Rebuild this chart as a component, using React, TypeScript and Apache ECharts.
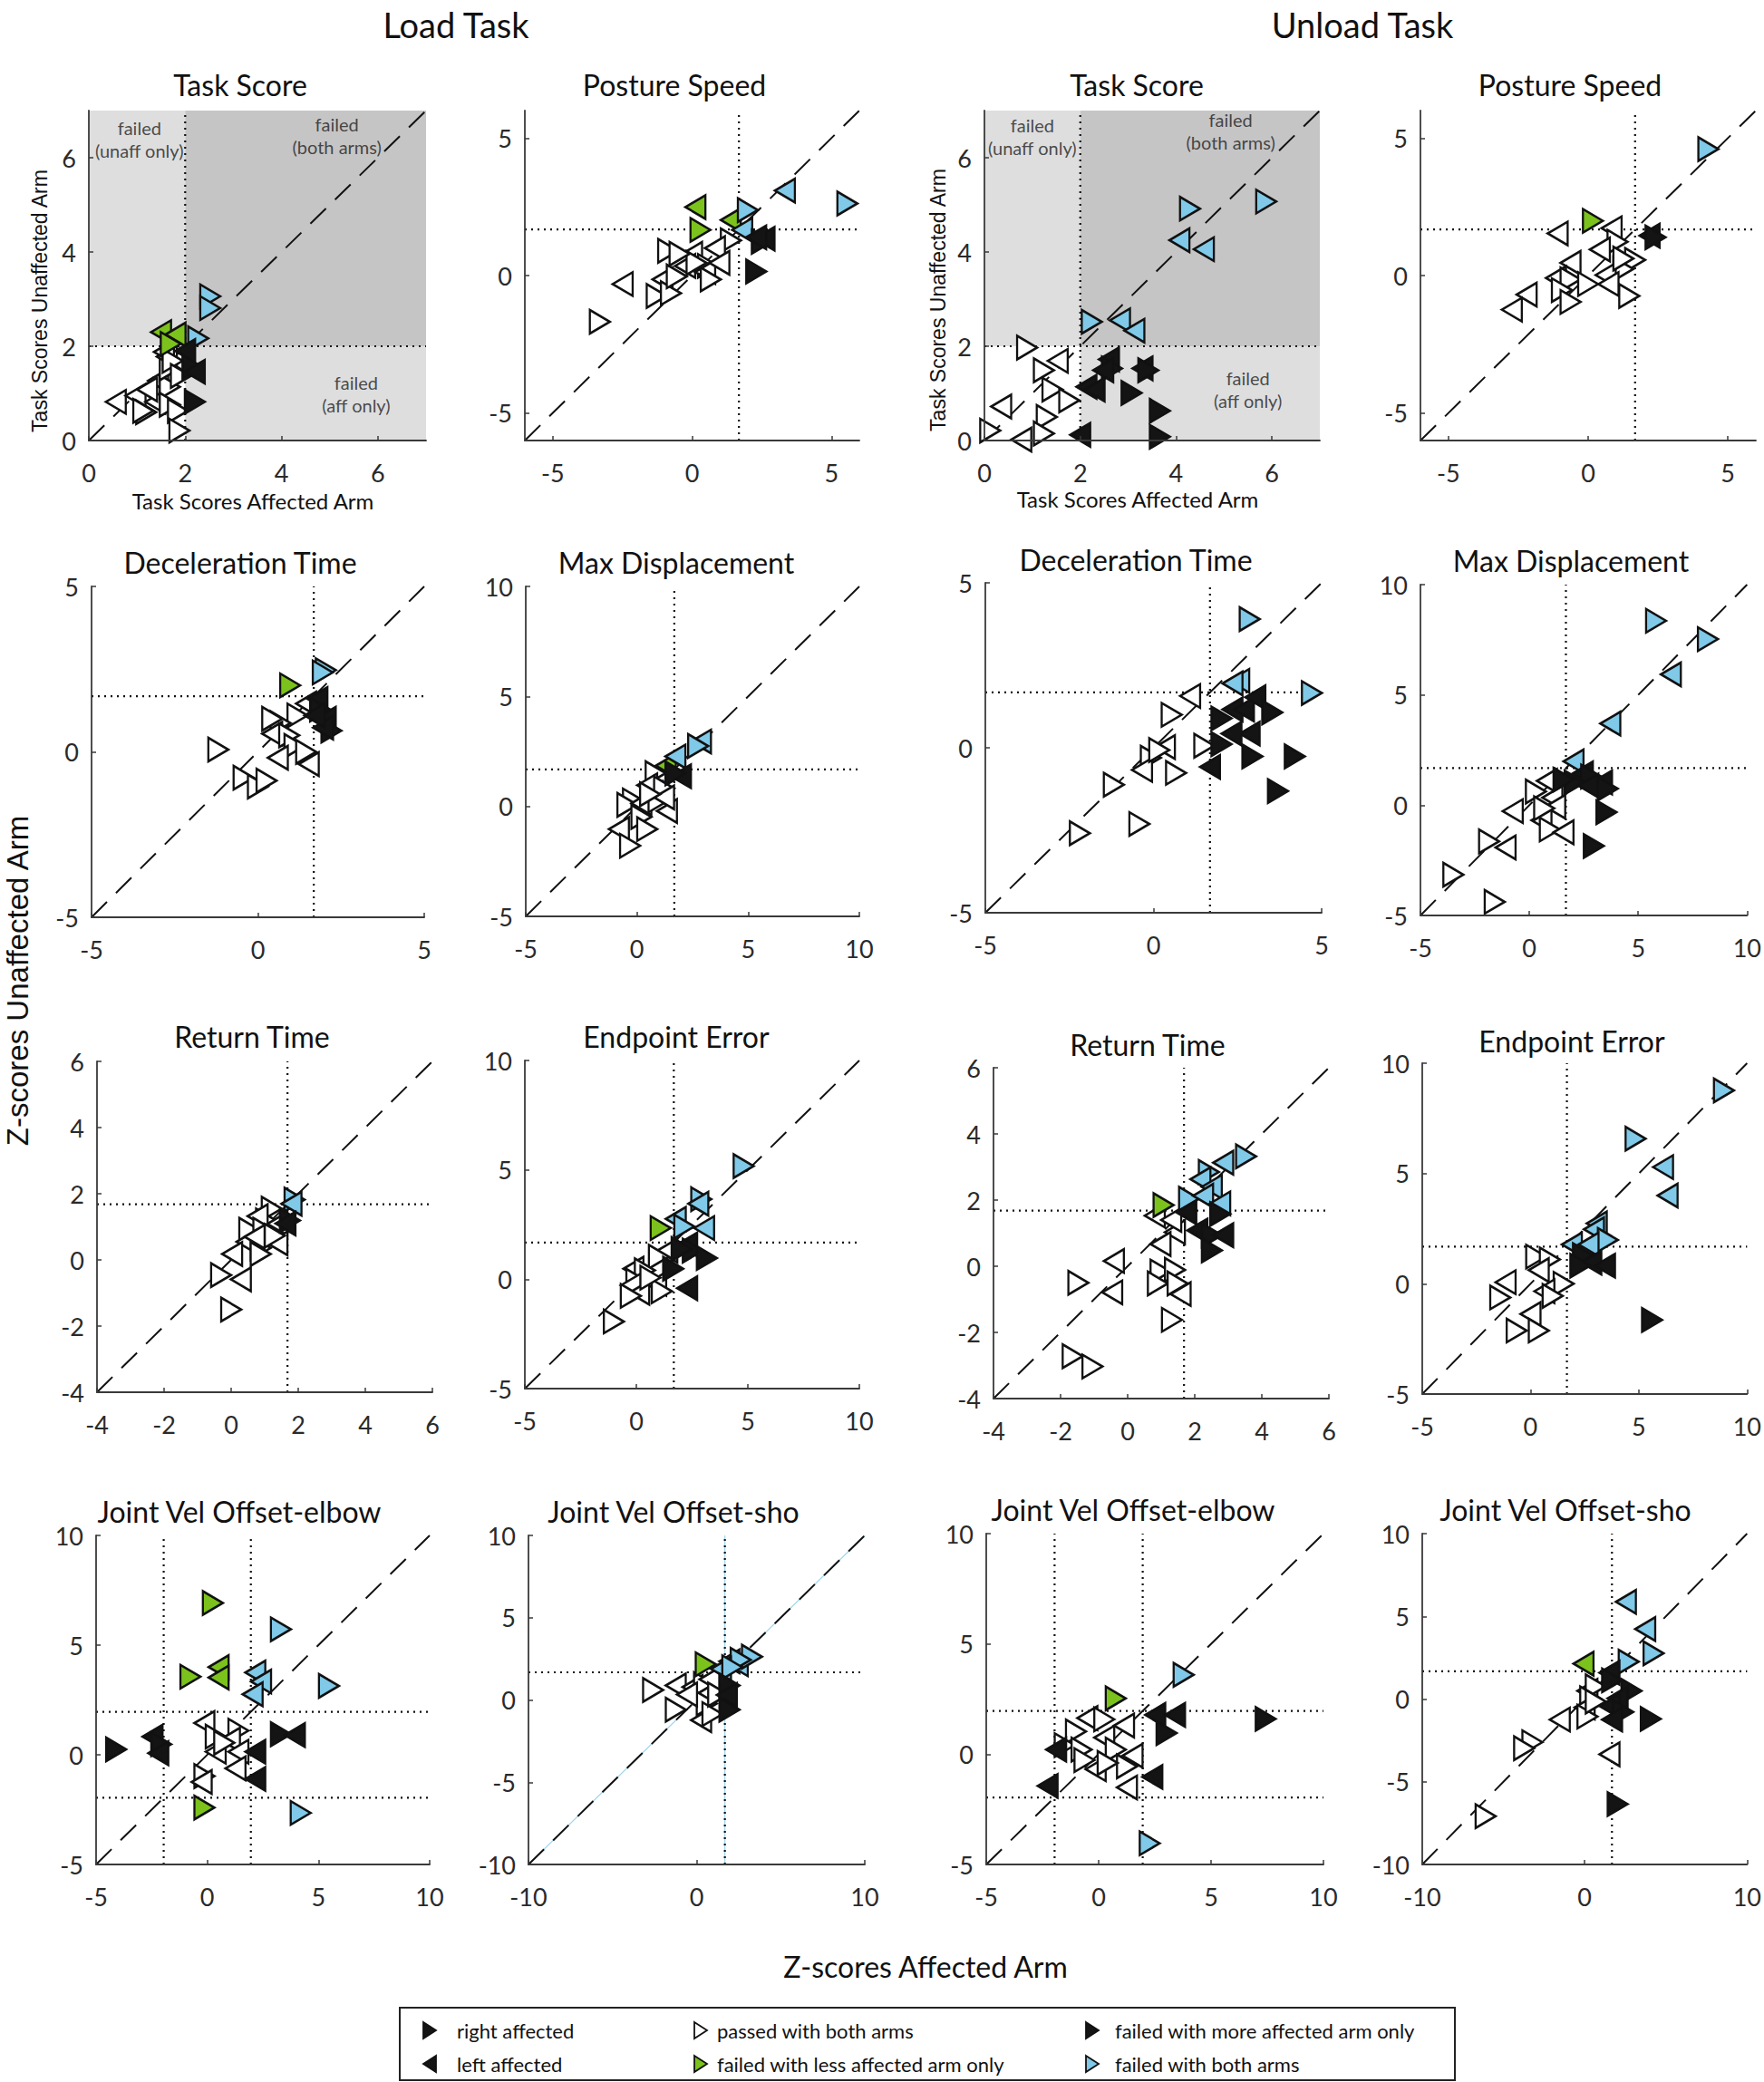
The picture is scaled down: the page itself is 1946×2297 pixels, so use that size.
import React, { useEffect, useRef } from "react";
import * as echarts from "echarts";

type Side = "R" | "L";
type Status = "P" | "G" | "B" | "C";
type Pt = [number, number, Side, Status];

// ---------- data (x = affected arm, y = unaffected arm, side, status) ----------
const loadTaskScore: Pt[] = [
  [2.52, 3.06, "R", "C"], [2.52, 2.81, "R", "C"], [2.27, 2.17, "R", "C"],
  [1.5, 2.3, "L", "G"], [1.8, 2.25, "L", "G"], [1.7, 2.05, "R", "G"],
  [2.0, 1.9, "L", "B"], [2.15, 1.56, "R", "B"], [2.2, 1.46, "L", "B"], [2.2, 0.82, "R", "B"],
  [0.56, 0.82, "L", "P"], [0.97, 0.95, "L", "P"], [1.19, 0.6, "R", "P"], [1.38, 0.82, "L", "P"],
  [1.44, 1.27, "L", "P"], [1.68, 1.14, "R", "P"], [1.68, 1.53, "R", "P"], [1.62, 1.78, "L", "P"],
  [1.68, 0.76, "R", "P"], [1.85, 0.63, "R", "P"], [1.88, 0.21, "R", "P"], [1.56, 1.88, "L", "P"],
  [1.74, 1.69, "R", "P"], [1.21, 1.08, "L", "P"], [1.91, 1.37, "R", "P"], [1.13, 0.63, "R", "P"],
];
const loadPosture: Pt[] = [
  [5.57, 2.62, "R", "C"], [3.33, 3.09, "L", "C"], [2.0, 2.38, "R", "C"], [1.8, 1.66, "L", "C"],
  [0.12, 2.49, "L", "G"], [1.39, 2.02, "L", "G"], [0.3, 1.66, "R", "G"],
  [2.5, 1.23, "R", "B"], [2.6, 1.34, "L", "B"], [2.3, 1.39, "L", "B"], [2.3, 0.15, "R", "B"],
  [1.39, 1.28, "R", "P"], [0.82, 1.0, "L", "P"], [-0.86, 0.9, "R", "P"], [0.0, 0.79, "L", "P"],
  [-0.25, 0.35, "L", "P"], [0.57, 0.35, "R", "P"], [0.47, 0.13, "L", "P"], [0.67, -0.14, "R", "P"],
  [-1.06, -0.14, "L", "P"], [-1.27, -0.74, "R", "P"], [-0.76, -0.64, "R", "P"], [-0.55, -0.03, "R", "P"],
  [-2.49, -0.31, "L", "P"], [-3.31, -1.68, "R", "P"], [0.16, 0.46, "R", "P"], [0.98, 0.46, "L", "P"],
  [-0.45, 0.79, "R", "P"],
];
const unloadTaskScore: Pt[] = [
  [4.29, 4.92, "R", "C"], [5.88, 5.07, "R", "C"], [4.07, 4.25, "L", "C"], [4.58, 4.06, "L", "C"],
  [2.24, 2.52, "R", "C"], [2.83, 2.55, "L", "C"], [3.13, 2.33, "L", "C"],
  [0.89, 1.97, "R", "P"], [1.53, 1.69, "L", "P"], [1.24, 1.49, "R", "P"], [1.42, 1.08, "R", "P"],
  [1.77, 0.85, "R", "P"], [0.35, 0.72, "L", "P"], [1.3, 0.5, "R", "P"], [0.12, 0.21, "R", "P"],
  [0.77, 0.02, "L", "P"], [1.24, 0.15, "R", "P"],
  [2.6, 1.72, "L", "B"], [2.66, 1.53, "R", "B"], [2.48, 1.49, "L", "B"], [3.3, 1.53, "L", "B"],
  [3.42, 1.49, "R", "B"], [2.13, 1.14, "L", "B"], [2.3, 1.08, "L", "B"], [3.07, 1.01, "R", "B"],
  [3.66, 0.63, "R", "B"], [2.0, 0.12, "L", "B"], [3.66, 0.08, "R", "B"],
];
const unloadPosture: Pt[] = [
  [4.3, 4.6, "R", "C"], [0.17, 1.99, "R", "G"], [2.2, 1.45, "L", "B"], [2.41, 1.39, "R", "B"],
  [-1.09, 1.53, "L", "P"], [0.84, 1.72, "L", "P"], [1.05, 1.23, "R", "P"], [0.42, 0.95, "L", "P"],
  [1.68, 0.57, "R", "P"], [-0.63, 0.46, "L", "P"], [1.26, 0.24, "R", "P"], [0.63, 0.02, "L", "P"],
  [-1.15, -0.09, "L", "P"], [-0.63, -0.14, "R", "P"], [0.0, -0.31, "R", "P"], [-0.94, -0.53, "R", "P"],
  [0.73, -0.31, "L", "P"], [1.47, -0.74, "R", "P"], [-0.63, -0.96, "R", "P"], [-2.2, -0.69, "L", "P"],
  [-2.73, -1.24, "L", "P"], [1.26, 0.62, "R", "P"],
];
const loadDecel: Pt[] = [
  [2.04, 2.47, "R", "C"], [1.95, 2.4, "R", "C"], [0.97, 2.01, "R", "G"],
  [1.79, 1.6, "L", "B"], [1.87, 1.28, "R", "B"], [2.04, 1.0, "L", "B"], [2.21, 0.64, "R", "B"],
  [1.96, 0.73, "L", "B"], [1.7, 1.1, "L", "B"],
  [1.45, 1.46, "L", "P"], [1.19, 1.1, "R", "P"], [0.68, 0.87, "R", "P"], [0.43, 0.55, "L", "P"],
  [0.94, 0.5, "R", "P"], [1.1, 0.18, "R", "P"], [0.6, -0.18, "L", "P"], [1.53, -0.37, "L", "P"],
  [1.45, 0.0, "R", "P"], [-1.19, 0.07, "R", "P"], [-0.43, -0.78, "R", "P"], [0.0, -1.05, "R", "P"],
  [0.26, -0.87, "R", "P"], [0.43, 1.0, "R", "P"],
];
const loadMaxDisp: Pt[] = [
  [2.88, 2.95, "L", "C"], [2.75, 2.75, "R", "C"], [1.73, 2.27, "L", "C"], [1.3, 1.85, "L", "G"],
  [1.98, 1.37, "L", "B"], [1.73, 1.5, "R", "B"],
  [0.84, 1.51, "R", "P"], [0.46, 0.96, "L", "P"], [1.22, 0.82, "R", "P"], [-0.18, 0.27, "R", "P"],
  [-0.43, 0.07, "R", "P"], [0.2, 0.14, "L", "P"], [0.2, -0.48, "R", "P"], [1.35, -0.21, "L", "P"],
  [0.97, 0.27, "R", "P"], [-0.81, -1.03, "L", "P"], [0.46, -1.03, "R", "P"], [-0.31, -1.79, "R", "P"],
  [1.22, 0.41, "L", "P"], [0.59, 0.55, "R", "P"],
];
const unloadDecel: Pt[] = [
  [2.86, 3.9, "R", "C"], [2.55, 2.03, "L", "C"], [2.35, 1.95, "L", "C"], [4.71, 1.66, "R", "C"],
  [1.09, 1.57, "L", "P"], [0.54, 1.0, "R", "P"], [0.34, 0.02, "L", "P"], [1.51, 0.06, "R", "P"],
  [-0.08, -0.3, "R", "P"], [-0.34, -0.67, "L", "P"], [0.67, -0.76, "R", "P"], [-1.18, -1.12, "R", "P"],
  [-0.42, -2.31, "R", "P"], [-2.19, -2.59, "R", "P"], [0.17, -0.07, "R", "P"],
  [2.02, 0.89, "R", "B"], [2.35, 1.16, "L", "B"], [2.69, 1.16, "L", "B"], [3.03, 1.53, "L", "B"],
  [3.53, 1.07, "R", "B"], [2.86, 0.43, "L", "B"], [2.02, 0.11, "R", "B"], [2.32, 0.43, "L", "B"],
  [2.94, -0.26, "R", "B"], [4.2, -0.26, "R", "B"], [1.68, -0.58, "L", "B"], [3.7, -1.31, "R", "B"],
];
const unloadMaxDisp: Pt[] = [
  [5.82, 8.36, "R", "C"], [8.2, 7.53, "R", "C"], [6.5, 5.93, "L", "C"], [3.72, 3.7, "L", "C"],
  [2.03, 1.99, "L", "C"],
  [2.46, 1.44, "L", "B"], [2.84, 1.3, "R", "B"], [3.34, 1.03, "L", "B"], [2.08, 1.03, "R", "B"],
  [2.71, 0.89, "L", "B"], [3.6, 0.75, "R", "B"], [3.54, -0.32, "R", "B"], [2.96, -1.85, "R", "B"],
  [1.57, 1.16, "R", "B"],
  [0.81, 1.1, "L", "P"], [0.3, 0.62, "R", "P"], [1.06, 0.34, "L", "P"], [1.19, -0.07, "L", "P"],
  [-0.76, -0.27, "L", "P"], [0.56, -0.68, "L", "P"], [0.94, -1.1, "R", "P"], [1.57, -1.23, "L", "P"],
  [-1.85, -1.64, "R", "P"], [-1.09, -1.92, "L", "P"], [-3.49, -3.15, "R", "P"], [-1.59, -4.38, "R", "P"],
  [0.68, -0.14, "R", "P"],
];
const loadReturn: Pt[] = [
  [1.89, 1.82, "R", "C"], [1.8, 1.7, "L", "C"], [1.75, 1.19, "R", "B"], [1.62, 1.1, "L", "B"],
  [1.21, 1.55, "R", "P"], [1.04, 1.19, "R", "P"], [0.79, 1.32, "L", "P"], [0.54, 0.91, "R", "P"],
  [0.96, 0.91, "R", "P"], [1.38, 1.09, "L", "P"], [0.46, 0.55, "L", "P"], [0.88, 0.36, "R", "P"],
  [1.38, 0.5, "L", "P"], [0.03, 0.18, "L", "P"], [0.88, 0.18, "R", "P"], [-0.3, -0.46, "R", "P"],
  [0.29, -0.59, "L", "P"], [0.0, -1.5, "R", "P"], [1.3, 0.73, "R", "P"], [0.7, 0.7, "L", "P"],
];
const loadEndpoint: Pt[] = [
  [4.81, 5.17, "R", "C"], [2.91, 3.66, "R", "C"], [2.78, 3.45, "L", "C"], [1.77, 2.76, "L", "C"],
  [2.15, 2.41, "R", "C"], [3.04, 2.34, "L", "C"], [1.09, 2.34, "R", "G"],
  [2.28, 1.59, "L", "B"], [2.53, 1.31, "R", "B"], [3.16, 0.97, "R", "B"], [1.65, 0.48, "R", "B"],
  [2.28, -0.41, "L", "B"], [2.03, 1.38, "R", "B"],
  [1.39, 1.31, "L", "P"], [1.01, 1.03, "R", "P"], [-0.13, 0.48, "L", "P"], [0.38, 0.41, "R", "P"],
  [0.0, -0.07, "R", "P"], [-0.25, -0.28, "L", "P"], [0.89, -0.21, "L", "P"], [1.14, -0.55, "R", "P"],
  [0.13, -0.62, "L", "P"], [-0.25, -0.76, "R", "P"], [-1.01, -1.93, "R", "P"], [0.63, 0.07, "R", "P"],
];
const unloadReturn: Pt[] = [
  [3.53, 3.32, "R", "C"], [2.85, 3.13, "L", "C"], [2.42, 2.85, "R", "C"], [2.17, 2.63, "L", "C"],
  [2.51, 2.4, "L", "C"], [1.83, 2.04, "R", "C"], [2.25, 2.13, "L", "C"], [2.76, 1.9, "L", "C"],
  [1.07, 1.85, "R", "G"],
  [1.75, 1.63, "L", "B"], [2.76, 1.58, "R", "B"], [2.08, 1.08, "L", "B"], [2.51, 0.94, "R", "B"],
  [2.85, 0.94, "L", "B"], [2.51, 0.48, "R", "B"],
  [0.81, 1.53, "L", "P"], [1.41, 1.03, "L", "P"], [0.98, 0.67, "L", "P"], [-0.41, 0.16, "L", "P"],
  [-1.47, -0.5, "R", "P"], [-0.46, -0.79, "L", "P"], [0.98, -0.16, "R", "P"], [1.41, -0.11, "R", "P"],
  [0.9, -0.52, "R", "P"], [1.49, -0.52, "R", "P"], [1.58, -0.84, "L", "P"], [1.32, -1.62, "R", "P"],
  [-1.64, -2.72, "R", "P"], [-1.05, -3.03, "R", "P"], [1.3, 1.4, "L", "P"],
];
const unloadEndpoint: Pt[] = [
  [8.93, 8.77, "R", "C"], [4.85, 6.58, "R", "C"], [6.12, 5.29, "L", "C"], [6.33, 4.0, "L", "C"],
  [3.06, 2.74, "L", "C"], [2.93, 2.47, "L", "C"], [3.57, 1.99, "R", "C"], [1.91, 1.78, "L", "C"],
  [2.68, 1.78, "L", "C"],
  [2.42, 1.3, "R", "B"], [2.81, 0.96, "L", "B"], [3.44, 0.82, "L", "B"], [2.3, 0.82, "R", "B"],
  [5.61, -1.64, "R", "B"],
  [0.26, 1.23, "R", "P"], [0.89, 1.1, "R", "P"], [0.38, 0.62, "L", "P"], [-1.15, 0.07, "L", "P"],
  [1.53, 0.0, "R", "P"], [0.64, -0.34, "L", "P"], [1.02, -0.55, "R", "P"], [-1.4, -0.62, "R", "P"],
  [0.0, -1.37, "L", "P"], [-0.64, -2.12, "R", "P"], [0.38, -2.12, "R", "P"],
];
const loadElbow: Pt[] = [
  [0.25, 6.92, "R", "G"], [-0.76, 3.56, "R", "G"], [0.51, 4.0, "L", "G"], [0.51, 3.52, "L", "G"],
  [-0.13, -2.41, "R", "G"],
  [3.31, 5.72, "R", "C"], [2.16, 3.75, "L", "C"], [2.42, 3.34, "L", "C"], [2.04, 2.76, "L", "C"],
  [5.47, 3.14, "R", "C"], [4.2, -2.65, "R", "C"],
  [-4.1, 0.25, "R", "B"], [-2.46, 0.83, "L", "B"], [-2.07, 0.48, "R", "B"], [-2.2, 0.07, "L", "B"],
  [3.31, 0.94, "R", "B"], [3.94, 0.9, "L", "B"], [2.16, 0.14, "L", "B"], [2.16, -1.1, "L", "B"],
  [-0.13, 1.45, "L", "P"], [0.38, 0.83, "R", "P"], [1.4, 1.1, "R", "P"], [1.02, 0.69, "L", "P"],
  [0.38, 0.14, "L", "P"], [1.4, 0.14, "L", "P"], [1.27, -0.62, "L", "P"], [-0.13, -0.97, "R", "P"],
  [-0.25, -1.24, "L", "P"], [0.76, 0.55, "R", "P"],
];
const loadShoulder: Pt[] = [
  [0.54, 2.17, "R", "G"],
  [1.95, 2.35, "L", "C"], [2.45, 2.17, "L", "C"], [3.29, 2.63, "R", "C"], [2.62, 2.44, "R", "C"],
  [1.45, 1.89, "L", "C"], [2.12, 1.99, "R", "C"],
  [1.95, 0.88, "R", "B"], [1.95, -0.59, "R", "B"], [1.8, 0.3, "L", "B"],
  [-2.59, 0.61, "R", "P"], [-1.24, 0.88, "L", "P"], [-0.24, 0.79, "L", "P"], [0.44, 0.97, "R", "P"],
  [0.77, 1.25, "L", "P"], [0.27, 0.15, "L", "P"], [-1.24, -0.59, "R", "P"], [0.6, -0.22, "R", "P"],
  [0.27, -1.23, "L", "P"], [0.94, -0.86, "R", "P"], [1.28, 0.33, "R", "P"], [-0.57, 0.33, "L", "P"],
];
const unloadElbow: Pt[] = [
  [3.78, 3.6, "R", "C"], [2.27, -4.04, "R", "C"], [0.76, 2.53, "R", "G"],
  [2.52, 1.78, "L", "B"], [3.4, 1.78, "L", "B"], [3.02, 0.96, "R", "B"], [7.43, 1.6, "R", "B"],
  [2.39, -1.03, "L", "B"], [-2.27, -1.44, "L", "B"], [-1.89, 0.21, "L", "B"],
  [-0.5, 1.64, "L", "P"], [0.25, 1.58, "R", "P"], [-1.01, 1.03, "R", "P"], [1.13, 1.3, "L", "P"],
  [-1.51, 0.41, "R", "P"], [0.25, 0.75, "L", "P"], [-0.76, 0.21, "R", "P"], [0.76, 0.21, "R", "P"],
  [1.51, -0.07, "L", "P"], [-0.63, -0.27, "R", "P"], [-0.13, -0.68, "L", "P"], [1.26, -0.55, "R", "P"],
  [1.26, -1.51, "L", "P"], [0.4, -0.4, "R", "P"],
];
const unloadShoulder: Pt[] = [
  [2.54, 5.88, "L", "C"], [3.73, 4.23, "L", "C"], [4.24, 2.77, "R", "C"], [2.71, 2.26, "R", "C"],
  [-0.07, 2.14, "L", "G"],
  [1.53, 1.59, "L", "B"], [1.69, 1.13, "R", "B"], [2.88, 0.49, "R", "B"], [2.03, 0.04, "L", "B"],
  [1.53, -0.42, "L", "B"], [2.37, -0.78, "R", "B"], [1.69, -1.24, "L", "B"], [4.07, -1.2, "R", "B"],
  [2.03, -6.35, "R", "B"],
  [0.17, 0.49, "L", "P"], [0.68, 0.77, "R", "P"], [0.34, 0.04, "R", "P"], [0.0, -0.51, "L", "P"],
  [0.17, -1.06, "R", "P"], [-1.53, -1.24, "L", "P"], [-3.22, -2.61, "R", "P"], [-3.73, -2.97, "R", "P"],
  [1.53, -3.34, "L", "P"], [-6.1, -7.08, "R", "P"], [0.68, -0.15, "R", "P"],
];

// ---------- ticks, cut-offs, regions ----------
const ticksTask = [0, 2, 4, 6];
const ticksPosture = [-5, 0, 5];
const ticksDecel = [-5, 0, 5];
const ticksWide = [-5, 0, 5, 10];
const ticksReturn = [-4, -2, 0, 2, 4, 6];
const ticksShoX = [-10, 0, 10];
const ticksShoY = [-10, -5, 0, 5, 10];

const taskCut = 2;
const zCut = 1.68;
const elbowCut = 1.96;

// [x0, y0, x1, y1, shade]
const taskRegions: [number, number, number, number, string][] = [
  [0, 2, 2, 7, "light"], [2, 2, 7, 7, "dark"], [2, 0, 7, 2, "light"],
];
const loadRegionLabels: [number, number, string][] = [
  [1.05, 6.4, "failed\n(unaff only)"], [5.15, 6.48, "failed\n(both arms)"], [5.55, 1.0, "failed\n(aff only)"],
];
const unloadRegionLabels: [number, number, string][] = [
  [1.0, 6.45, "failed\n(unaff only)"], [5.14, 6.56, "failed\n(both arms)"], [5.5, 1.09, "failed\n(aff only)"],
];

// ---------- styles ----------
const FILL: Record<Status, string> = { P: "#ffffff", G: "#7cc21c", B: "#141414", C: "#80c9e8" };
const ORDER: Record<Status, number> = { P: 0, G: 1, C: 2, B: 3 };
const LIGHT = "#dedede";
const DARK = "#c6c5c5";
const FONT = "Lato";
const AXIS_COLOR = "#3a3a3a";

interface Panel {
  title: string; tx: number; ty: number;
  data: Pt[];
  x: [number, number]; y: [number, number];
  xt: number[]; yt: number[];
  grid: [number, number, number, number];
  cutX: number[]; cutY: number[];
  regionLabels?: [number, number, string][];
  blueGuide?: boolean;
}

const panels: Panel[] = [
  { title: "Task Score", tx: 265, ty: 93, data: loadTaskScore, x: [0, 7], y: [0, 7], xt: ticksTask, yt: ticksTask, grid: [98, 122, 372, 364], cutX: [taskCut], cutY: [taskCut], regionLabels: loadRegionLabels },
  { title: "Posture Speed", tx: 744, ty: 93, data: loadPosture, x: [-6, 6], y: [-6, 6], xt: ticksPosture, yt: ticksPosture, grid: [579, 122, 369, 364], cutX: [zCut], cutY: [zCut] },
  { title: "Task Score", tx: 1254, ty: 93, data: unloadTaskScore, x: [0, 7], y: [0, 7], xt: ticksTask, yt: ticksTask, grid: [1086, 122, 370, 364], cutX: [taskCut], cutY: [taskCut], regionLabels: unloadRegionLabels },
  { title: "Posture Speed", tx: 1732, ty: 93, data: unloadPosture, x: [-6, 6], y: [-6, 6], xt: ticksPosture, yt: ticksPosture, grid: [1567, 122, 370, 364], cutX: [zCut], cutY: [zCut] },

  { title: "Deceleration Time", tx: 265, ty: 620, data: loadDecel, x: [-5, 5], y: [-5, 5], xt: ticksDecel, yt: ticksDecel, grid: [101, 647, 367, 365], cutX: [zCut], cutY: [zCut] },
  { title: "Max Displacement", tx: 746, ty: 620, data: loadMaxDisp, x: [-5, 10], y: [-5, 10], xt: ticksWide, yt: ticksWide, grid: [580, 647, 368, 364], cutX: [zCut], cutY: [zCut] },
  { title: "Deceleration Time", tx: 1253, ty: 617, data: unloadDecel, x: [-5, 5], y: [-5, 5], xt: ticksDecel, yt: ticksDecel, grid: [1087, 643, 371, 364], cutX: [zCut], cutY: [zCut] },
  { title: "Max Displacement", tx: 1733, ty: 618, data: unloadMaxDisp, x: [-5, 10], y: [-5, 10], xt: ticksWide, yt: ticksWide, grid: [1567, 645, 370, 365], cutX: [zCut], cutY: [zCut] },

  { title: "Return Time", tx: 278, ty: 1143, data: loadReturn, x: [-4, 6], y: [-4, 6], xt: ticksReturn, yt: ticksReturn, grid: [107, 1171, 370, 365], cutX: [zCut], cutY: [zCut] },
  { title: "Endpoint Error", tx: 746, ty: 1143, data: loadEndpoint, x: [-5, 10], y: [-5, 10], xt: ticksWide, yt: ticksWide, grid: [579, 1170, 369, 362], cutX: [zCut], cutY: [zCut] },
  { title: "Return Time", tx: 1266, ty: 1152, data: unloadReturn, x: [-4, 6], y: [-4, 6], xt: ticksReturn, yt: ticksReturn, grid: [1096, 1178, 370, 365], cutX: [zCut], cutY: [zCut] },
  { title: "Endpoint Error", tx: 1734, ty: 1148, data: unloadEndpoint, x: [-5, 10], y: [-5, 10], xt: ticksWide, yt: ticksWide, grid: [1569, 1173, 368, 365], cutX: [zCut], cutY: [zCut] },

  { title: "Joint Vel Offset-elbow", tx: 264, ty: 1667, data: loadElbow, x: [-5, 10], y: [-5, 10], xt: ticksWide, yt: ticksWide, grid: [106, 1694, 368, 363], cutX: [-elbowCut, elbowCut], cutY: [-elbowCut, elbowCut] },
  { title: "Joint Vel Offset-sho", tx: 743, ty: 1667, data: loadShoulder, x: [-10, 10], y: [-10, 10], xt: ticksShoX, yt: ticksShoY, grid: [583, 1694, 371, 363], cutX: [zCut], cutY: [zCut], blueGuide: true },
  { title: "Joint Vel Offset-elbow", tx: 1250, ty: 1665, data: unloadElbow, x: [-5, 10], y: [-5, 10], xt: ticksWide, yt: ticksWide, grid: [1088, 1692, 372, 365], cutX: [-elbowCut, elbowCut], cutY: [-elbowCut, elbowCut] },
  { title: "Joint Vel Offset-sho", tx: 1727, ty: 1665, data: unloadShoulder, x: [-10, 10], y: [-10, 10], xt: ticksShoX, yt: ticksShoY, grid: [1569, 1692, 368, 365], cutX: [zCut], cutY: [zCut] },
];

const legendItems: { text: string; side: Side; status: Status; mx: number; tx: number; y: number }[] = [
  { text: "right affected", side: "R", status: "B", mx: 474, tx: 504, y: 2240 },
  { text: "left affected", side: "L", status: "B", mx: 474, tx: 504, y: 2277 },
  { text: "passed with both arms", side: "R", status: "P", mx: 773, tx: 791, y: 2240 },
  { text: "failed with less affected arm only", side: "R", status: "G", mx: 773, tx: 791, y: 2277 },
  { text: "failed with more affected arm only", side: "R", status: "B", mx: 1205, tx: 1230, y: 2240 },
  { text: "failed with both arms", side: "R", status: "C", mx: 1205, tx: 1230, y: 2277 },
];

function buildOption() {
  const grid = panels.map((p) => ({ left: p.grid[0], top: p.grid[1], width: p.grid[2], height: p.grid[3] }));
  const axisCommon = (i: number, range: [number, number], ticks: number[], isX: boolean) => ({
    type: "value",
    gridIndex: i,
    min: range[0],
    max: range[1],
    z: 10,
    axisLine: { show: true, onZero: false, lineStyle: { color: AXIS_COLOR, width: 1.8 } },
    axisTick: { show: true, inside: true, length: 5, customValues: ticks, lineStyle: { color: AXIS_COLOR, width: 1.5 } },
    axisLabel: { customValues: ticks, fontSize: 27, fontFamily: FONT, color: "#2a2a2a", margin: isX ? 22 : 14 },
    splitLine: { show: false },
  });
  const xAxis = panels.map((p, i) => axisCommon(i, p.x, p.xt, true));
  const yAxis = panels.map((p, i) => axisCommon(i, p.y, p.yt, false));

  const series: any[] = [];
  panels.forEach((p, i) => {
    const base = { xAxisIndex: i, yAxisIndex: i, silent: true, animation: false };
    if (p.regionLabels) {
      series.push({
        ...base, type: "line", z: 1, symbol: "none", data: [[p.x[0], p.y[0]]], lineStyle: { opacity: 0 },
        markArea: {
          silent: true,
          data: taskRegions.map((r) => [
            { coord: [r[0], r[1]], itemStyle: { color: r[4] === "dark" ? DARK : LIGHT, opacity: 1 } },
            { coord: [r[2], r[3]] },
          ]),
        },
      });
    }
    const lo = Math.max(p.x[0], p.y[0]);
    const hi = Math.min(p.x[1], p.y[1]);
    if (p.blueGuide) {
      series.push({ ...base, type: "line", z: 2, symbol: "none", data: [[lo, lo], [hi, hi]], lineStyle: { color: "#9fd6ee", width: 1.2 } });
      p.cutX.forEach((t) => series.push({ ...base, type: "line", z: 2, symbol: "none", data: [[t, p.y[0]], [t, p.y[1]]], lineStyle: { color: "#9fd6ee", width: 1.2 } }));
    }
    series.push({ ...base, type: "line", z: 3, symbol: "none", data: [[lo, lo], [hi, hi]], lineStyle: { color: "#111", width: 2, type: [24, 14] } });
    p.cutX.forEach((t) =>
      series.push({ ...base, type: "line", z: 3, symbol: "none", data: [[t, p.y[0]], [t, p.y[1]]], lineStyle: { color: "#111", width: 2.2, type: [2, 5] } })
    );
    p.cutY.forEach((t) =>
      series.push({ ...base, type: "line", z: 3, symbol: "none", data: [[p.x[0], t], [p.x[1], t]], lineStyle: { color: "#111", width: 2.2, type: [2, 5] } })
    );
    const sorted = [...p.data].sort((a, b) => ORDER[a[3]] - ORDER[b[3]]);
    series.push({
      ...base,
      type: "scatter",
      z: 5,
      symbol: "triangle",
      symbolSize: [26, 22],
      itemStyle: { borderColor: "#111", borderWidth: 2.5, opacity: 1 },
      data: sorted.map((d) => ({
        value: [d[0], d[1]],
        symbolRotate: d[2] === "R" ? -90 : 90,
        itemStyle: { color: FILL[d[3]] },
      })),
    });
    if (p.regionLabels) {
      series.push({
        ...base,
        type: "scatter",
        z: 4,
        symbolSize: 1,
        itemStyle: { color: "rgba(0,0,0,0)" },
        label: { show: true, position: "inside", formatter: "{b}", fontSize: 20, lineHeight: 25, fontFamily: FONT, color: "#222" },
        data: p.regionLabels.map((r) => ({ value: [r[0], r[1]], name: r[2] })),
      });
    }
  });

  const graphic: any[] = [];
  const txt = (text: string, x: number, y: number, size: number, family = FONT, rotation = 0) => ({
    type: "text",
    x,
    y,
    rotation,
    z: 20,
    style: { text, fill: "#111", font: `${size}px ${family}`, textAlign: "center", textVerticalAlign: "middle" },
  });
  graphic.push(txt("Load Task", 503, 27, 38));
  graphic.push(txt("Unload Task", 1503, 27, 38));
  panels.forEach((p) => graphic.push(txt(p.title, p.tx, p.ty, 32)));
  graphic.push(txt("Task Scores Affected Arm", 279, 552, 24));
  graphic.push(txt("Task Scores Affected Arm", 1255, 550, 24));
  graphic.push(txt("Task Scores Unaffected Arm", 44, 332, 23, "'Liberation Sans'", Math.PI / 2));
  graphic.push(txt("Task Scores Unaffected Arm", 1035, 331, 23, "'Liberation Sans'", Math.PI / 2));
  graphic.push(txt("Z-scores Unaffected Arm", 19, 1082, 33, "'Liberation Sans'", Math.PI / 2));
  graphic.push(txt("Z-scores Affected Arm", 1021, 2169, 32));

  graphic.push({ type: "rect", z: 19, shape: { x: 441, y: 2215, width: 1164, height: 80 }, style: { fill: "#fff", stroke: "#222", lineWidth: 2 } });
  legendItems.forEach((it) => {
    const pts = it.side === "R"
      ? [[it.mx - 7, it.y - 9], [it.mx + 7, it.y], [it.mx - 7, it.y + 9]]
      : [[it.mx + 7, it.y - 9], [it.mx - 7, it.y], [it.mx + 7, it.y + 9]];
    graphic.push({ type: "polygon", z: 20, shape: { points: pts }, style: { fill: FILL[it.status], stroke: "#111", lineWidth: 1.8 } });
    graphic.push({
      type: "text", x: it.tx, y: it.y, z: 20,
      style: { text: it.text, fill: "#111", font: `22px ${FONT}`, textAlign: "left", textVerticalAlign: "middle" },
    });
  });

  return { animation: false, backgroundColor: "#ffffff", grid, xAxis, yAxis, series, graphic };
}

export default function App() {
  const ref = useRef<HTMLDivElement>(null);
  useEffect(() => {
    if (!ref.current) return;
    const chart = echarts.init(ref.current, undefined, { renderer: "svg" });
    chart.setOption(buildOption() as any);
    return () => chart.dispose();
  }, []);
  return <div ref={ref} style={{ position: "absolute", left: 0, top: 0, width: 1946, height: 2297 }} />;
}
